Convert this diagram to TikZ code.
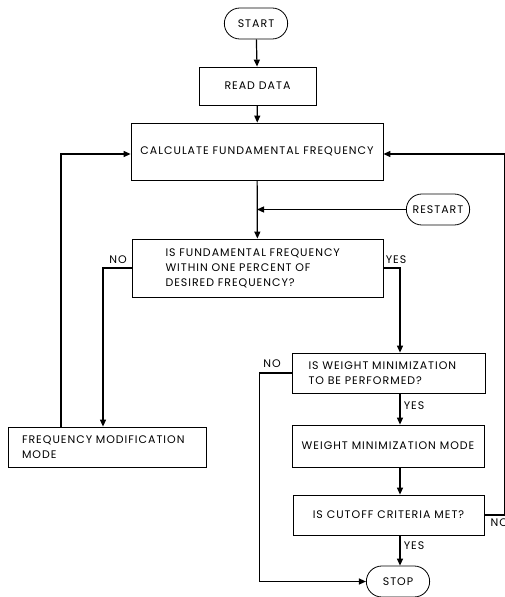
\documentclass[tikz,border=0pt]{standalone}
\usepackage{fontspec}
\setmainfont[LetterSpace=9]{Poppins}
\usetikzlibrary{positioning,arrows.meta,shapes.misc}
\tikzset{
  proc/.style={draw, line width=0.8pt, inner sep=0pt},
  term/.style={draw, rounded rectangle, line width=0.8pt, minimum width=70pt, minimum height=31pt},
  flow/.style={line width=1.2pt, -{Triangle[length=7pt,width=6pt]}}
}
\begin{document}
\begin{tikzpicture}[x=1pt, y=-1pt, every node/.style={font=\fontsize{11}{15}\selectfont}]
      \useasboundingbox (0,0) rectangle (504,597);
      \node[term] (start) at (256,23.5) {START};
      \node[proc, minimum width=117pt, minimum height=38pt] (read) at (257.5,86) {READ DATA};
      \node[proc, minimum width=252pt, minimum height=57pt] (calc) at (257,151.5) {CALCULATE FUNDAMENTAL FREQUENCY};
      \node[term] (restart) at (438,209.5) {RESTART};
      \node[proc, minimum width=251pt, minimum height=58pt, text width=184pt, align=left] (isfund) at (257.5,268)
        {IS FUNDAMENTAL FREQUENCY\\WITHIN ONE PERCENT OF\\DESIRED FREQUENCY?};
      \node[proc, minimum width=198pt, minimum height=40pt, text width=170pt, align=left] (freq) at (107,447)
        {FREQUENCY MODIFICATION\\MODE};
      \node[proc, minimum width=193pt, minimum height=40pt, text width=160pt, align=left] (weight) at (388.5,373)
        {IS WEIGHT MINIMIZATION\\TO BE PERFORMED?};
      \node[proc, minimum width=192pt, minimum height=42pt] (wmm) at (388,446) {WEIGHT MINIMIZATION MODE};
      \node[proc, minimum width=191pt, minimum height=40pt] (cutoff) at (388.5,515) {IS CUTOFF CRITERIA MET?};
      \node[term] (stop) at (398,581.5) {STOP};
      \coordinate (c) at (400,0);
      \coordinate (e) at (504.5,0);
      \draw[flow] (start) -- (read);
      \draw[flow] (read) -- (calc);
      \draw[flow] (calc) -- (isfund);
      \draw[flow] (restart.west) -- (restart.west -| calc.south);
      \draw[flow] (isfund.west) -| ([xshift=-4pt]freq.north);
      \draw[flow] ([xshift=-46pt]freq.north) |- ([yshift=-2.5pt]calc.west);
      \draw[flow] (isfund.east) -| (weight.north -| c);
      \draw[flow] (weight.south -| c) -- (wmm.north -| c);
      \draw[flow] (wmm.south -| c) -- (cutoff.north -| c);
      \draw[flow] (cutoff.south -| c) -- (stop.north -| c);
      \draw[flow] (weight.west) -- ++(-32pt,0) |- (stop.west);
      \draw[flow] (cutoff.east) -| ([yshift=-2.5pt]calc.east -| e) -- ([yshift=-2.5pt]calc.east);
      \node (no1) at (118,260) {NO};
      \node (yes1) at (396,260) {YES};
      \node (no2) at (272,364) {NO};
      \node (yes2) at (414,406) {YES};
      \node (yes3) at (414,546) {YES};
      \node[anchor=west] (no3) at (487,523) {NO};
\end{tikzpicture}
\end{document}
